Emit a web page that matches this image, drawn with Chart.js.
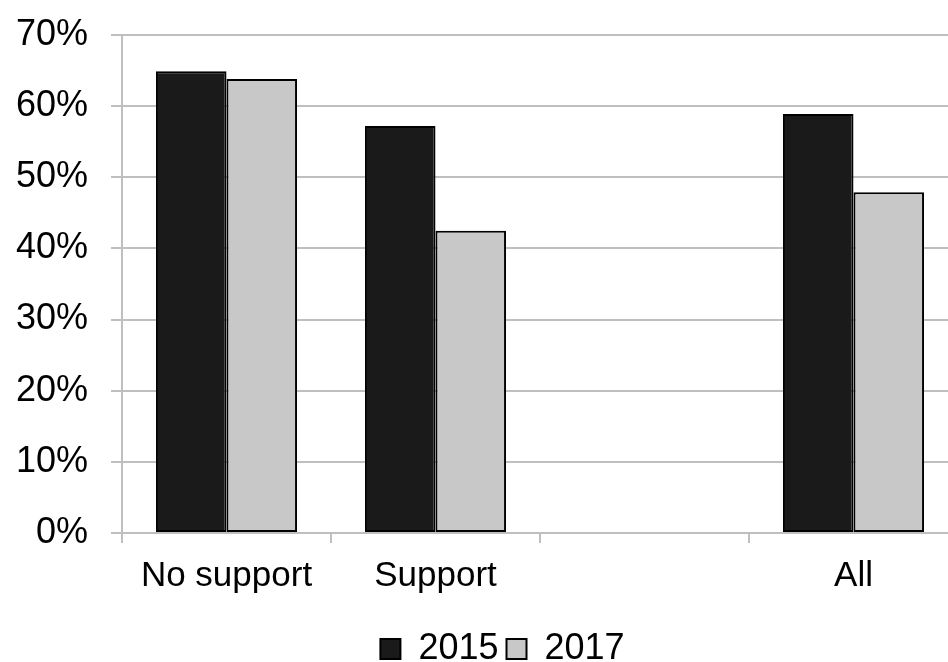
<!DOCTYPE html>
<html>
<head>
<meta charset="utf-8">
<script src="https://cdn.jsdelivr.net/npm/chart.js@4/dist/chart.umd.min.js"></script>
<style>
  html, body { margin: 0; padding: 0; background: #fff; overflow: hidden; }
  #wrap { width: 960px; height: 677px; position: relative; }
</style>
</head>
<body>
<div id="wrap"><canvas id="support-chart"></canvas></div>
<script>
    // Share of respondents by support group, two survey years
    var categories = ['No support', 'Support', '', 'All'];
    var values2015 = [64.9, 57.2, null, 58.9];
    var values2017 = [63.8, 42.5, null, 47.9];
    var yTicks = [0, 10, 20, 30, 40, 50, 60, 70];

    var axisGrey = '#bfbfbf';
    var font = 'Liberation Sans, Arial, sans-serif';

    // Legend sits a little right of the canvas centre
    var legendShift = {
        id: 'legendShift',
        afterLayout: function (chart) {
            chart.legend.left += 47;
        }
    };

    var showSupportChart = function () {
        let ctx = document.getElementById('support-chart');
        let config = {
            type: 'bar',
            data: {
                labels: categories,
                datasets: [{
                    label: '2015',
                    data: values2015,
                    backgroundColor: '#1a1a1a',
                    borderColor: '#000',
                    borderWidth: 2,
                    borderSkipped: false
                }, {
                    label: '2017',
                    data: values2017,
                    backgroundColor: '#c8c8c8',
                    borderColor: '#000',
                    borderWidth: 2,
                    borderSkipped: false
                }]
            },
            options: {
                responsive: true,
                maintainAspectRatio: false,
                animation: false,
                layout: {
                    padding: {top: 35, right: 2, left: 0, bottom: 0}
                },
                datasets: {
                    bar: {categoryPercentage: 0.675, barPercentage: 1}
                },
                scales: {
                    x: {
                        grid: {
                            offset: true,
                            drawOnChartArea: false,
                            tickLength: 10,
                            color: axisGrey,
                            lineWidth: 2
                        },
                        border: {color: axisGrey, width: 2},
                        ticks: {
                            color: '#000',
                            font: {family: font, size: 35},
                            padding: 12,
                            maxRotation: 0
                        },
                        afterFit: function (scale) {
                            scale.height = 90;
                        }
                    },
                    y: {
                        min: 0,
                        max: 70,
                        afterBuildTicks: function (scale) {
                            scale.ticks = yTicks.map(function (v) {
                                return {value: v};
                            });
                        },
                        grid: {
                            color: axisGrey,
                            lineWidth: 2,
                            tickLength: 11
                        },
                        border: {color: axisGrey, width: 2},
                        ticks: {
                            color: '#000',
                            font: {family: font, size: 36},
                            padding: 23,
                            callback: function (v) {
                                return v + '%';
                            }
                        },
                        afterFit: function (scale) {
                            scale.width = 122;
                            scale.paddingTop = 0;
                        }
                    }
                },
                plugins: {
                    legend: {
                        position: 'bottom',
                        labels: {
                            color: '#000',
                            font: {family: font, size: 36},
                            boxWidth: 20,
                            boxHeight: 20,
                            padding: 8
                        }
                    },
                    tooltip: {enabled: false}
                }
            },
            plugins: [legendShift]
        };
        return new Chart(ctx, config);
    };

    showSupportChart();
</script>
</body>
</html>
